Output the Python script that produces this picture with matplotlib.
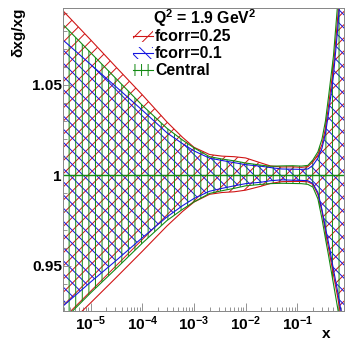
import numpy as np
import matplotlib.pyplot as plt
from matplotlib.patches import Rectangle
from matplotlib.ticker import MultipleLocator, LogLocator, FuncFormatter, NullFormatter

plt.rcParams['font.family'] = ['Liberation Sans', 'DejaVu Sans']
plt.rcParams['font.weight'] = 'bold'
plt.rcParams['mathtext.fontset'] = 'custom'
plt.rcParams['mathtext.rm'] = 'Liberation Sans:bold'
plt.rcParams['mathtext.it'] = 'Liberation Sans:bold'
plt.rcParams['mathtext.bf'] = 'Liberation Sans:bold'
plt.rcParams['hatch.linewidth'] = 0.9

### Data (relative uncertainty of the gluon, Q^2 = 1.9 GeV^2) ###
x = [3e-6, 1e-5, 3e-5, 1e-4, 3e-4, 6e-4, 1e-3, 2e-3, 3.5e-3, 6e-3, 1e-2, 2e-2, 3e-2,
     5e-2, 8e-2, 0.12, 0.16, 0.2, 0.25, 0.3, 0.35, 0.4, 0.5, 0.6, 0.7, 0.8]

red_up = [0.0906, 0.0749, 0.0603, 0.0445, 0.0295, 0.021, 0.0155, 0.0115, 0.0106, 0.0103,
          0.0096, 0.0068, 0.0052, 0.0046, 0.0047, 0.0044, 0.0048, 0.0075, 0.0115, 0.017,
          0.026, 0.038, 0.060, 0.086, 0.11, 0.135]
red_dn = [0.085, 0.0705, 0.057, 0.042, 0.028, 0.020, 0.0148, 0.0105, 0.0095, 0.0091,
          0.0082, 0.0060, 0.0045, 0.0035, 0.0034, 0.0034, 0.0036, 0.0050, 0.0105, 0.020,
          0.031, 0.040, 0.055, 0.067, 0.078, 0.089]

blue_up = [0.0745, 0.0613, 0.0493, 0.036, 0.0235, 0.0175, 0.0135, 0.0095, 0.0082, 0.0070,
           0.0059, 0.0050, 0.0043, 0.0035, 0.0034, 0.0033, 0.0035, 0.0055, 0.0095, 0.015,
           0.023, 0.034, 0.055, 0.080, 0.105, 0.128]
blue_dn = [0.072, 0.059, 0.0475, 0.0345, 0.023, 0.0168, 0.0128, 0.0088, 0.0072, 0.0058,
           0.0046, 0.0038, 0.0030, 0.0025, 0.0027, 0.0028, 0.0030, 0.0045, 0.0095, 0.019,
           0.029, 0.037, 0.052, 0.064, 0.075, 0.087]

green_up = [0.083, 0.0678, 0.0539, 0.0387, 0.026, 0.0195, 0.0152, 0.0103, 0.0090, 0.0080,
            0.0068, 0.0056, 0.0050, 0.0052, 0.0053, 0.0051, 0.0055, 0.0085, 0.013, 0.020,
            0.030, 0.043, 0.066, 0.094, 0.12, 0.145]
green_dn = [0.080, 0.065, 0.052, 0.0375, 0.025, 0.0188, 0.0147, 0.0100, 0.0085, 0.0072,
            0.0058, 0.0050, 0.0046, 0.0044, 0.0045, 0.0046, 0.0050, 0.0065, 0.013, 0.024,
            0.035, 0.044, 0.060, 0.073, 0.085, 0.098]

labels = ['fcorr=0.25', 'fcorr=0.1', 'Central']
title = 'Q$^{2}$ = 1.9 GeV$^{2}$'

RED = '#d01515'
BLUE = '#1515e0'
GREEN = '#138a13'

x = np.array(x)
# doubled hatch characters give ~13 px line spacing at this dpi, like ROOT's hatches
bands = [(red_up, red_dn, RED, '//'), (blue_up, blue_dn, BLUE, '\\\\'), (green_up, green_dn, GREEN, '||')]

fig = plt.figure(figsize=(345 / 79, 345 / 79), dpi=79)
ax = fig.add_axes([0.1826, 0.0986, 0.9971 - 0.1826, 0.9768 - 0.0986])

for up, dn, col, h in bands:
    hi = 1 + np.array(up)
    lo = 1 - np.array(dn)
    ax.fill_between(x, lo, hi, facecolor='none', edgecolor=col, linewidth=0, hatch=h)
    ax.plot(x, hi, color=col, lw=1.0)
    ax.plot(x, lo, color=col, lw=1.0)
ax.plot(x, np.ones_like(x), color=GREEN, lw=1.3)

ax.set_xscale('log')
ax.set_xlim(2.92e-6, 0.80)
ax.set_ylim(0.925, 1.0925)

ax.xaxis.set_major_locator(LogLocator(base=10, numticks=20))
ax.xaxis.set_minor_locator(LogLocator(base=10, subs=np.arange(2, 10), numticks=20))
ax.xaxis.set_major_formatter(FuncFormatter(lambda v, p: '$10^{%d}$' % int(round(np.log10(v)))))
ax.xaxis.set_minor_formatter(NullFormatter())
ax.yaxis.set_major_locator(MultipleLocator(0.05))
ax.yaxis.set_minor_locator(MultipleLocator(0.01))
ax.yaxis.set_major_formatter(FuncFormatter(lambda v, p: '%g' % round(v, 3)))

ax.tick_params(which='both', direction='in', colors='#888888', labelcolor='black', labelsize=14)
ax.tick_params(which='major', length=7.5, width=0.8)
ax.tick_params(which='minor', length=3.8, width=0.8)
ax.tick_params(axis='y', pad=1)
ax.tick_params(axis='x', pad=3)
for s in ax.spines.values():
    s.set_color('#888888')
    s.set_linewidth(0.9)

ax.set_ylabel('δxg/xg', loc='top', fontsize=14, fontweight='bold', labelpad=6)
ax.set_xlabel('x', fontsize=14, fontweight='bold')
ax.xaxis.set_label_coords(0.936, -0.075)
ax.xaxis.label.set_va('center')

# legend drawn by hand, ROOT style
ax.text(0.32, 0.947, title, transform=ax.transAxes, fontsize=14.5, fontweight='bold',
        ha='left', va='baseline')
for i, ((up, dn, col, h), lab) in enumerate(zip(bands, labels)):
    yb = 0.891 - i * 0.056
    yc = yb + 0.016
    ax.add_patch(Rectangle((0.249, yc - 0.02), 0.071, 0.04, transform=ax.transAxes,
                           facecolor='none', edgecolor=col, linewidth=0, hatch=h, clip_on=False))
    ax.plot([0.249, 0.320], [yc, yc], transform=ax.transAxes, color=col, lw=1.0)
    ax.text(0.327, yb, lab, transform=ax.transAxes, fontsize=14.5, fontweight='bold',
            ha='left', va='baseline')

fig.savefig('out.png', dpi=79)
